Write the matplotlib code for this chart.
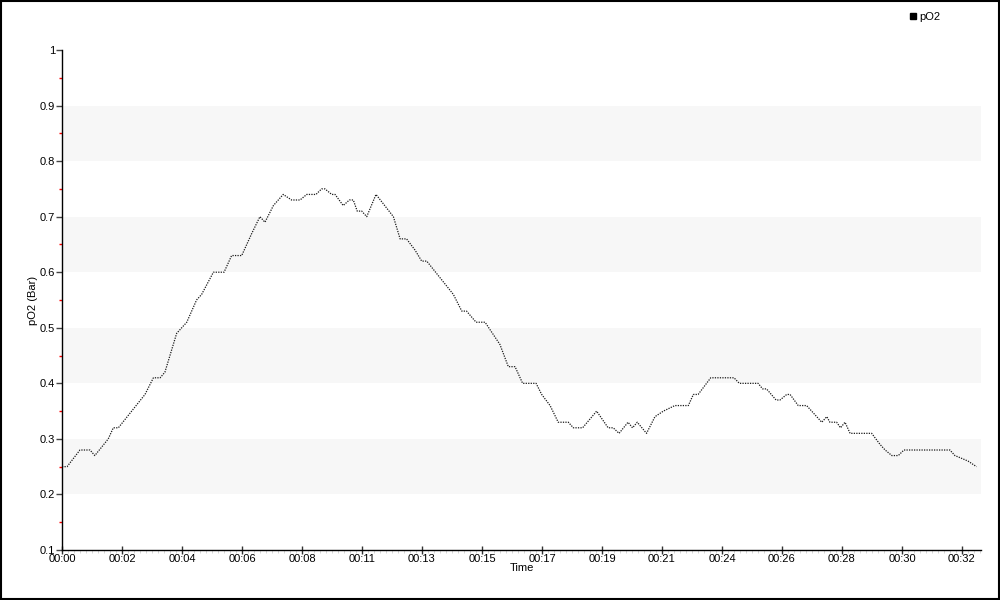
import numpy as np
import matplotlib
matplotlib.use("Agg")
import matplotlib.pyplot as plt
from matplotlib.lines import Line2D
from matplotlib.patches import Rectangle

# dive time (minutes) and pO2 (bar)
time_min = [0.00, 0.18, 0.64, 1.00, 1.17, 1.65, 1.83, 2.01, 2.96, 3.26,
            3.50, 3.67, 4.09, 4.45, 4.80, 4.98, 5.40, 5.78, 6.05, 6.41,
            6.77, 7.06, 7.24, 7.54, 7.89, 8.19, 8.49, 8.73, 9.06, 9.26,
            9.38, 9.62, 9.74, 10.03, 10.25, 10.39, 10.53, 10.69, 10.87, 11.20,
            11.82, 12.06, 12.29, 12.59, 12.83, 13.01, 13.96, 14.26, 14.43, 14.77,
            15.09, 15.62, 15.92, 16.16, 16.43, 16.91, 17.11, 17.41, 17.70, 18.06,
            18.24, 18.57, 19.07, 19.48, 19.66, 19.87, 20.19, 20.35, 20.52, 20.85,
            21.15, 21.45, 21.86, 22.34, 22.52, 22.69, 23.14, 23.97, 24.16, 24.83,
            24.99, 25.13, 25.47, 25.61, 25.85, 25.97, 26.26, 26.56, 27.10, 27.28,
            27.39, 27.63, 27.77, 27.93, 28.11, 28.88, 29.18, 29.36, 29.60, 29.83,
            30.03, 31.67, 31.85, 32.09, 32.32, 32.62]
po2 = [0.25, 0.25, 0.28, 0.28, 0.27, 0.30, 0.32, 0.32, 0.38, 0.41,
       0.41, 0.42, 0.49, 0.51, 0.55, 0.56, 0.60, 0.60, 0.63, 0.63,
       0.67, 0.70, 0.69, 0.72, 0.74, 0.73, 0.73, 0.74, 0.74, 0.75,
       0.75, 0.74, 0.74, 0.72, 0.73, 0.73, 0.71, 0.71, 0.70, 0.74,
       0.70, 0.66, 0.66, 0.64, 0.62, 0.62, 0.56, 0.53, 0.53, 0.51,
       0.51, 0.47, 0.43, 0.43, 0.40, 0.40, 0.38, 0.36, 0.33, 0.33,
       0.32, 0.32, 0.35, 0.32, 0.32, 0.31, 0.33, 0.32, 0.33, 0.31,
       0.34, 0.35, 0.36, 0.36, 0.38, 0.38, 0.41, 0.41, 0.40, 0.40,
       0.39, 0.39, 0.37, 0.37, 0.38, 0.38, 0.36, 0.36, 0.33, 0.34,
       0.33, 0.33, 0.32, 0.33, 0.31, 0.31, 0.29, 0.28, 0.27, 0.27,
       0.28, 0.28, 0.27, 0.265, 0.26, 0.25]

tick_labels = ["00:00", "00:02", "00:04", "00:06", "00:08", "00:11", "00:13", "00:15",
               "00:17", "00:19", "00:21", "00:24", "00:26", "00:28", "00:30", "00:32"]
tick_step = 2.14  # minutes between labelled ticks
x_end = 32.78

bands = [(0.2, 0.3), (0.4, 0.5), (0.6, 0.7), (0.8, 0.9)]

plt.rcParams['font.family'] = ['Liberation Sans', 'DejaVu Sans']

fig = plt.figure(figsize=(10, 6), dpi=100)
ax = fig.add_axes([0.062, 0.0833, 0.919, 0.8334])

# alternating background bands
for lo, hi in bands:
    ax.axhspan(lo, hi, color='#f7f7f7', zorder=0, lw=0)

ax.plot(time_min, po2, color='#1a1a1a', linewidth=0.9, linestyle=(0, (1, 1)))

ax.set_xlim(0, x_end)
ax.set_ylim(0.1, 1.0)

for side in ['top', 'right']:
    ax.spines[side].set_visible(False)
for side in ['left', 'bottom']:
    ax.spines[side].set_linewidth(1)
    ax.spines[side].set_color('black')

# y ticks
ax.set_yticks(np.round(np.arange(0.1, 1.01, 0.1), 1))
ax.set_yticklabels(['0.1', '0.2', '0.3', '0.4', '0.5', '0.6', '0.7', '0.8', '0.9', '1'])
ax.set_yticks(np.round(np.arange(0.15, 1.0, 0.1), 2), minor=True)
ax.tick_params(axis='y', which='major', direction='out', length=4, width=1,
               color='#444444', labelsize=8, pad=1)
ax.tick_params(axis='y', which='minor', direction='out', length=2, width=1, color='red')

# x ticks
ax.set_xticks(np.arange(len(tick_labels)) * tick_step)
ax.set_xticklabels(tick_labels)
ax.set_xticks(np.arange(0, x_end, tick_step / 10), minor=True)
ax.tick_params(axis='x', which='major', direction='inout', length=6, width=1,
               color='#333333', labelsize=8, pad=0)
ax.tick_params(axis='x', which='minor', direction='out', length=2, width=0.6,
               color='#d0d0d0')

ax.set_xlabel('Time', fontsize=8, labelpad=-1)
ax.set_ylabel('pO2 (Bar)', fontsize=8, labelpad=1)

# legend at top right
handle = Line2D([], [], marker='s', color='black', linestyle='None', markersize=5)
fig.legend(handles=[handle], labels=['pO2'], loc='upper left',
           bbox_to_anchor=(0.905, 0.988), frameon=False, fontsize=8,
           handlelength=0.6, handletextpad=0.3, borderaxespad=0)

# frame around the whole picture
fig.patches.append(Rectangle((0.001, 0.0015), 0.998, 0.997, transform=fig.transFigure,
                             fill=False, edgecolor='black', linewidth=1.5))

fig.savefig('out.png', dpi=100)
